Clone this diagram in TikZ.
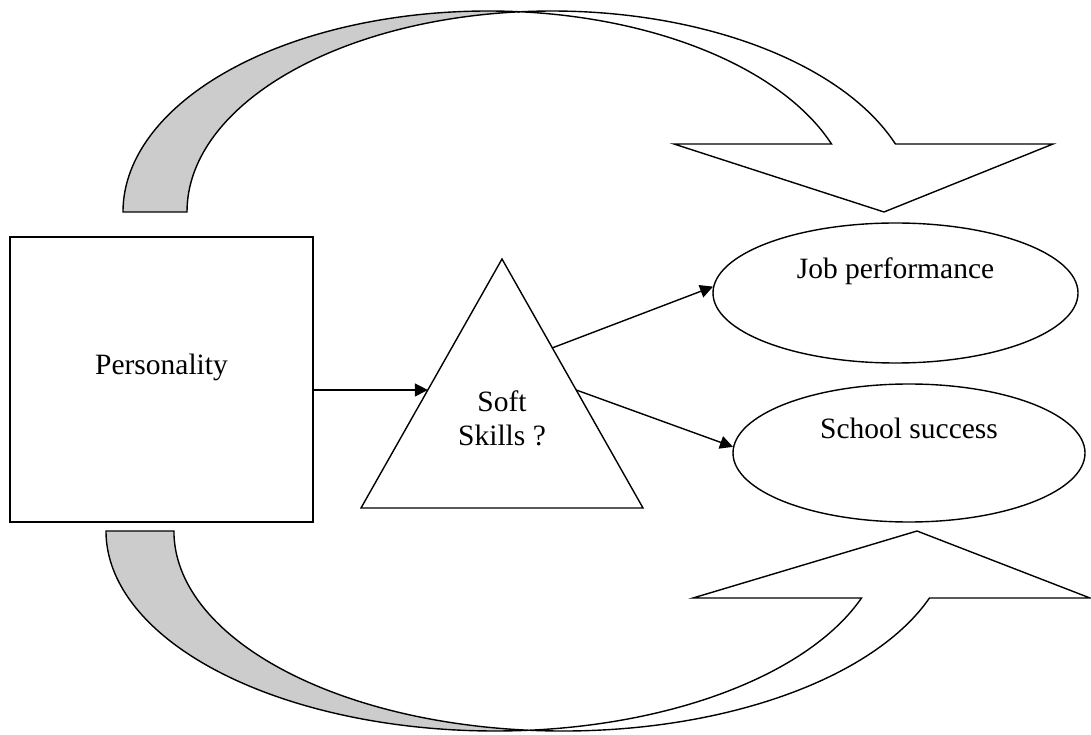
\documentclass[tikz,border=0pt]{standalone}
\usepackage{fontspec}
\setmainfont{Liberation Serif}
\usetikzlibrary{arrows.meta,shapes.geometric,calc}
\begin{document}
\begin{tikzpicture}[x=1pt,y=1pt,
  lbl/.style={font=\fontsize{29.5}{33}\selectfont},
  boxnode/.style={draw,line width=1.4pt,rectangle,inner sep=0pt,lbl},
  ovalnode/.style={draw,line width=1.4pt,ellipse,inner sep=0pt,lbl},
  conn/.style={line width=1.4pt,-{Triangle[length=13pt,width=13pt]}},
  bandback/.style={draw,line width=1.4pt,fill=black!20},
  bandfront/.style={draw,line width=1.4pt,fill=white,line join=miter}]
\useasboundingbox (0,0) rectangle (1091,734);
\fill[white] (0,0) rectangle (1091,734);

% top curved arrow
\draw[bandback] (123,522) arc[start angle=180,end angle=84.97,x radius=365,y radius=201]
  arc[start angle=95.03,end angle=180,x radius=365,y radius=201] -- cycle;
\draw[bandfront] (519.97,722.2) arc[start angle=95.03,end angle=19.77,x radius=365,y radius=201]
  -- (1053,590) -- (884,522) -- (674,590) -- (831.5,590)
  arc[start angle=19.77,end angle=84.97,x radius=365,y radius=201] -- cycle;

% bottom curved arrow
\draw[bandback] (106,203) arc[start angle=180,end angle=275.01,x radius=389,y radius=200]
  arc[start angle=264.99,end angle=180,x radius=389,y radius=200] -- cycle;
\draw[bandfront] (529,3.76) arc[start angle=264.99,end angle=340.43,x radius=389,y radius=200]
  -- (1090,136) -- (917,203) -- (693,136) -- (861.5,136)
  arc[start angle=340.43,end angle=275.01,x radius=389,y radius=200] -- cycle;

% Personality box
\node[boxnode,minimum width=303pt,minimum height=285pt] (pers) at (161.5,354.5)
  {\raisebox{4.5pt}[0pt][0pt]{Personality}};

% triangle
\coordinate (tA) at (502,475);
\coordinate (tB) at (361,226);
\coordinate (tC) at (643,226);
\draw[line width=1.4pt,line join=miter] (tA) -- (tB) -- (tC) -- cycle;
\node[lbl,anchor=base,inner sep=0pt] (soft) at (502,289)
  {\setlength{\tabcolsep}{0pt}\begin{tabular}[b]{c}Soft\\Skills ?\end{tabular}};
\coordinate (inL) at ($(tA)!0.526!(tB)$);
\coordinate (outJ) at ($(tA)!0.357!(tC)$);
\coordinate (outS) at ($(tA)!0.526!(tC)$);

% ellipses
\node[ovalnode,minimum width=365pt,minimum height=140pt] (job) at (895.5,441)
  {\raisebox{14pt}[0pt][0pt]{Job performance}};
\node[ovalnode,minimum width=352pt,minimum height=138pt] (school) at (909,281)
  {\raisebox{14pt}[0pt][0pt]{School success}};

% connectors
\draw[conn] (pers.east |- inL) -- (inL);
\draw[conn] (outJ) -- (job.178);
\draw[conn] (outS) -- (school.178);
\end{tikzpicture}
\end{document}
